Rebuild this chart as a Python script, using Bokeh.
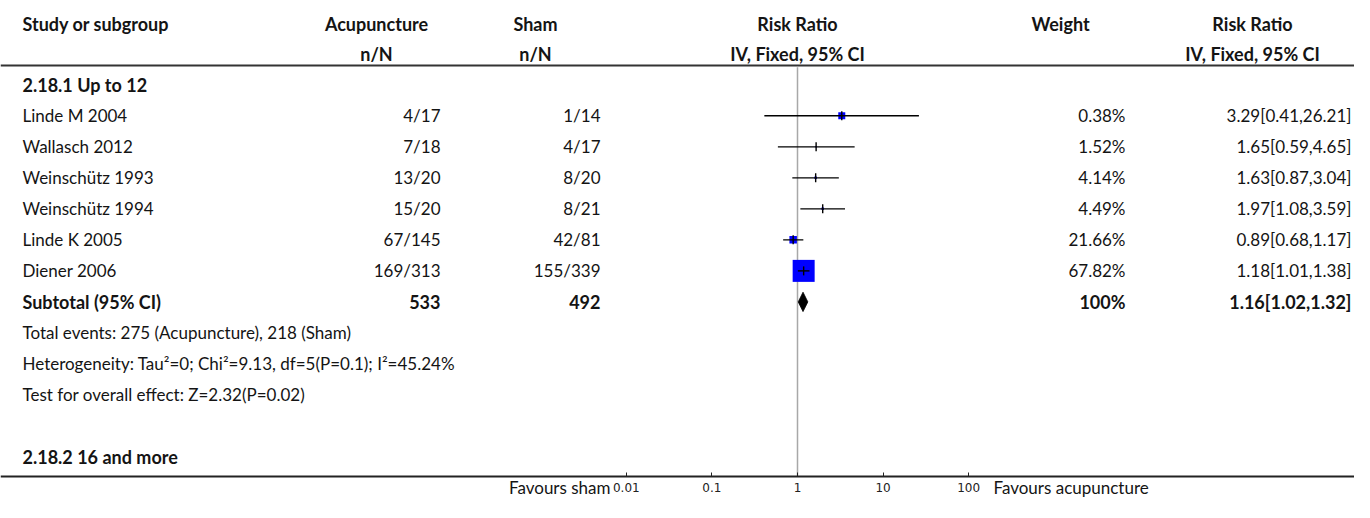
from bokeh.plotting import figure
from bokeh.models import (ColumnDataSource, Range1d, LogScale, LogAxis, FixedTicker,
                          CustomJSTickFormatter)
from bokeh.core.properties import value
from bokeh.embed import file_html
from bokeh.resources import INLINE

# ---------------- data ----------------
studies = ["Linde M 2004", "Wallasch 2012", "Weinschütz 1993", "Weinschütz 1994",
           "Linde K 2005", "Diener 2006"]
acu_events = [4, 7, 13, 15, 67, 169]
acu_total = [17, 18, 20, 20, 145, 313]
sham_events = [1, 4, 8, 8, 42, 155]
sham_total = [14, 17, 20, 21, 81, 339]
weights = [0.38, 1.52, 4.14, 4.49, 21.66, 67.82]
rr_est = [3.29, 1.65, 1.63, 1.97, 0.89, 1.18]
rr_lo = [0.41, 0.59, 0.87, 1.08, 0.68, 1.01]
rr_hi = [26.21, 4.65, 3.04, 3.59, 1.17, 1.38]

subtotal_acu = 533
subtotal_sham = 492
subtotal_weight = "100%"
subtotal_rr = [1.16, 1.02, 1.32]
total_events_text = "Total events: 275 (Acupuncture), 218 (Sham)"
heterogeneity_text = "Heterogeneity: Tau\u00b2=0; Chi\u00b2=9.13, df=5(P=0.1); I\u00b2=45.24%"
overall_text = "Test for overall effect: Z=2.32(P=0.02)"
group1 = "2.18.1 Up to 12"
group2 = "2.18.2 16 and more"
axis_ticks = [0.01, 0.1, 1, 10, 100]
favours_left = "Favours sham"
favours_right = "Favours acupuncture"

# ---------------- layout / style ----------------
W, H = 1354, 502
REF_H = 518
FONT = "Lato"
FS = "17px"
FS_B = "18px"
COL = "#141414"
ROW0 = 87.0
PITCH = 32.0

def row_of(ref_y):
    return (ref_y - ROW0) / PITCH

ONE_X = 797.0      # x of RR = 1
DECADE = 85.6      # px per decade
rr_start = 10 ** ((0 - ONE_X) / DECADE)
rr_end = 10 ** ((W - ONE_X) / DECADE)

p = figure(width=W, height=H, output_backend="svg", toolbar_location=None,
           x_range=Range1d(0, W), y_range=Range1d(row_of(REF_H), row_of(0)),
           min_border_left=0, min_border_right=0, min_border_top=0, min_border_bottom=0,
           outline_line_color=None, x_axis_location=None, y_axis_location=None)
p.grid.visible = False
p.extra_x_ranges = {"rr": Range1d(rr_start, rr_end)}
p.extra_x_scales = {"rr": LogScale()}

AXIS_ROW = row_of(491)
ax = LogAxis(x_range_name="rr", ticker=FixedTicker(ticks=axis_ticks),
             formatter=CustomJSTickFormatter(code="return tick.toString();"),
             fixed_location=AXIS_ROW)
ax.axis_line_color = "#222222"
ax.axis_line_width = 2
ax.major_tick_in = 4
ax.major_tick_out = 0
ax.major_tick_line_color = "#222222"
ax.minor_tick_line_color = None
ax.major_label_text_font = "DejaVu Sans"
ax.major_label_text_font_size = "12px"
ax.major_label_text_color = "#222222"
ax.major_label_standoff = 7
p.add_layout(ax, "below")

def add_text(xs, ys, texts, align, bold=False, range_name="default"):
    src = ColumnDataSource(dict(x=xs, y=ys, t=texts))
    kw = {}
    if range_name != "default":
        kw["x_range_name"] = range_name
    p.text(x="x", y="y", text="t", source=src, text_align=align, text_baseline="middle",
           text_font=value(FONT), text_font_size=FS_B if bold else FS, text_color=COL,
           text_font_style="bold" if bold else "normal", **kw)

X_STUDY = 22
X_ACU_R, X_ACU_C = 440, 376
X_SHAM_R, X_SHAM_C = 600, 535
X_W_R, X_W_C = 1125, 1060
X_RR_R, X_RR_C = 1351, 1252

H1, H2 = row_of(24), row_of(55)

# headers
add_text([X_STUDY], [H1], ["Study or subgroup"], "left", True)
add_text([X_ACU_C, X_SHAM_C, X_W_C, X_RR_C], [H1] * 4,
         ["Acupuncture", "Sham", "Weight", "Risk Ratio"], "center", True)
add_text([X_ACU_C, X_SHAM_C, X_RR_C], [H2] * 3, ["n/N", "n/N", "IV, Fixed, 95% CI"], "center", True)
add_text([1, 1], [H1, H2], ["Risk Ratio", "IV, Fixed, 95% CI"], "center", True, "rr")

# header line
p.segment(x0=[0], x1=[W], y0=[row_of(67)], y1=[row_of(67)], line_color="#333333", line_width=2)

# rows
rows = list(range(1, len(studies) + 1))
add_text([X_STUDY], [0], [group1], "left", True)
add_text([X_STUDY] * len(studies), rows, studies, "left")
add_text([X_ACU_R] * len(studies), rows, [f"{e}/{n}" for e, n in zip(acu_events, acu_total)], "right")
add_text([X_SHAM_R] * len(studies), rows, [f"{e}/{n}" for e, n in zip(sham_events, sham_total)], "right")
add_text([X_W_R] * len(studies), rows, [f"{w:.2f}%" for w in weights], "right")
add_text([X_RR_R] * len(studies), rows,
         [f"{r:.2f}[{l:.2f},{h:.2f}]" for r, l, h in zip(rr_est, rr_lo, rr_hi)], "right")

sub_row = len(studies) + 1
add_text([X_STUDY], [sub_row], ["Subtotal (95% CI)"], "left", True)
add_text([X_ACU_R, X_SHAM_R, X_W_R], [sub_row] * 3,
         [str(subtotal_acu), str(subtotal_sham), subtotal_weight], "right", True)
add_text([X_RR_R], [sub_row],
         [f"{subtotal_rr[0]:.2f}[{subtotal_rr[1]:.2f},{subtotal_rr[2]:.2f}]"], "right", True)
add_text([X_STUDY] * 3, [sub_row + 1, sub_row + 2, sub_row + 3],
         [total_events_text, heterogeneity_text, overall_text], "left")
add_text([X_STUDY], [sub_row + 5], [group2], "left", True)

# null line
p.segment(x0=[1], x1=[1], y0=[row_of(69)], y1=[AXIS_ROW], x_range_name="rr",
          line_color="#a8a8a8", line_width=1.5)

# boxes (side in px, style)
box_px = [7, 1.5, 2.5, 2.5, 7.5, 22]
fsrc = ColumnDataSource(dict(y=rows, est=rr_est, lo=rr_lo, hi=rr_hi, s=box_px))
p.rect(x="est", y="y", width="s", height="s", width_units="screen", height_units="screen",
       source=fsrc, x_range_name="rr", fill_color="#0000ff", line_color=None)
p.segment(x0="lo", x1="hi", y0="y", y1="y", source=fsrc, x_range_name="rr",
          line_color="#000000", line_width=1.4)
p.rect(x="est", y="y", width=1.4, height=9, width_units="screen", height_units="screen",
       source=fsrc, x_range_name="rr", fill_color="#000000", line_color=None)

# diamond
half = 10 / PITCH
p.patches(xs=[[subtotal_rr[1], subtotal_rr[0], subtotal_rr[2], subtotal_rr[0]]],
          ys=[[sub_row, sub_row - half, sub_row, sub_row + half]],
          x_range_name="rr", fill_color="#000000", line_color="#000000", line_width=0.8)

# favours labels
y_lab = row_of(503)
add_text([610], [y_lab], [favours_left], "right")
add_text([993], [y_lab], [favours_right], "left")

open("out.html", "w").write(file_html(p, INLINE))
